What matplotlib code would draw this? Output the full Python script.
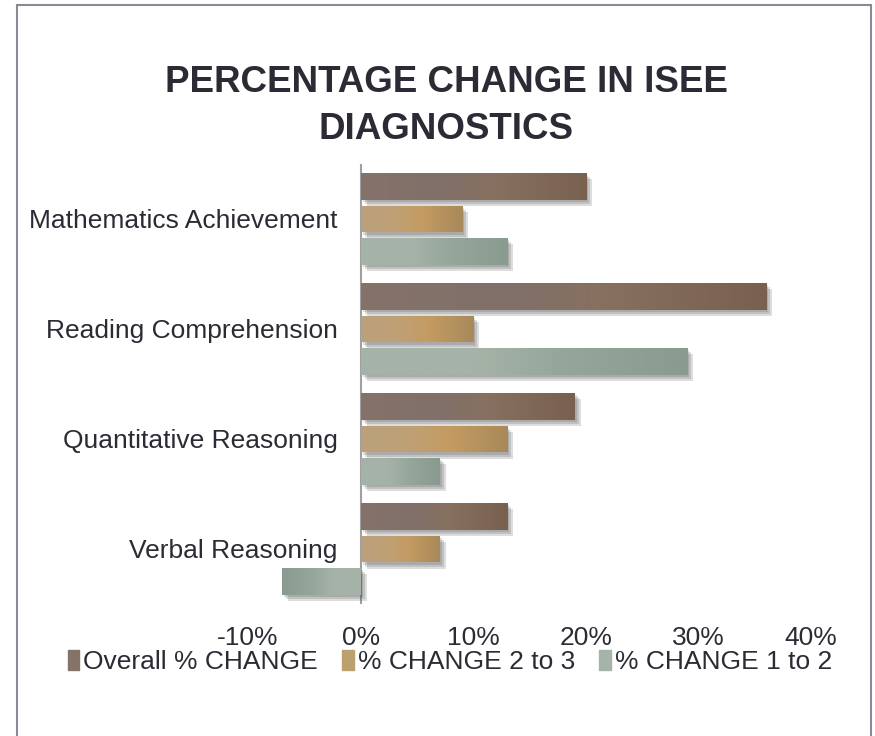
import numpy as np
import matplotlib
matplotlib.use("Agg")
import matplotlib.pyplot as plt
import matplotlib.transforms as mtransforms
from matplotlib.colors import LinearSegmentedColormap
from matplotlib.patches import Rectangle
import matplotlib.patheffects as pe

plt.rcParams['font.family'] = ['Liberation Sans', 'DejaVu Sans']

# data
categories = ["Mathematics Achievement", "Reading Comprehension",
              "Quantitative Reasoning", "Verbal Reasoning"]
series_names = ["Overall % CHANGE", "% CHANGE 2 to 3", "% CHANGE 1 to 2"]
overall = [20, 36, 19, 13]
change_2_3 = [9, 10, 13, 7]
change_1_2 = [13, 29, 7, -7]
x_ticks = [-10, 0, 10, 20, 30, 40]

# gradient stops for each series (left -> right along the bar)
grads = [
    ["#857369", "#80706a", "#87705f", "#79604f"],
    ["#bba17e", "#bfa074", "#c49b62", "#a8895a"],
    ["#a6b2a8", "#a5b2a7", "#95a79b", "#899b8f"],
]
legend_cols = ["#857369", "#bda070", "#a6b3a8"]
txt_col = "#2b2b35"

fig = plt.figure(figsize=(8.75, 7.36), dpi=100)
# outer chart frame
fig.patches.append(Rectangle((17 / 875, -0.01), (871 - 17) / 875, 1 - 5 / 736 + 0.01,
                             transform=fig.transFigure, fill=False,
                             edgecolor="#8a8a96", lw=1.5))

ax = fig.add_axes([248 / 875, 1 - 604 / 736, (811 - 248) / 875, (604 - 164) / 736])

values = [overall, change_2_3, change_1_2]
n = len(categories)
ypos = np.arange(n)[::-1]
pitch = 0.295
h = 0.245
grad = np.linspace(0, 1, 256).reshape(1, -1)

# soft-ish drop shadow: a few stacked offsets
shadow = [pe.SimplePatchShadow(offset=(o, -o), shadow_rgbFace="#444444", alpha=0.18)
          for o in (1.5, 3, 4.5)]

for i, vals in enumerate(values):
    offs = (1 - i) * pitch
    bars = ax.barh(ypos + offs, vals, height=h, color=grads[i][0],
                   label=series_names[i], zorder=2)
    cmap = LinearSegmentedColormap.from_list("g%d" % i, list(zip([0, 0.35, 0.6, 1], grads[i])))
    for b in bars:
        b.set_path_effects(shadow + [pe.Normal()])
        x0, w = b.get_x(), b.get_width()
        y0, bh = b.get_y(), b.get_height()
        img = grad if w >= 0 else grad[:, ::-1]
        im = ax.imshow(img, cmap=cmap, aspect="auto", zorder=3,
                       extent=[min(x0, x0 + w), max(x0, x0 + w), y0, y0 + bh])
        im.set_clip_path(b)

ax.set_xlim(-10, 40)
ax.set_ylim(-0.5, n - 0.5)
ax.set_xticks(x_ticks)
ax.set_xticklabels(["%d%%" % t for t in x_ticks], fontsize=19, color=txt_col)
ax.tick_params(length=0, pad=16, axis="x")
ax.set_yticks([])
for s in ax.spines.values():
    s.set_visible(False)
ax.axvline(0, color="#a0a0a0", lw=1.5, zorder=1)

# category labels sit beside the vertical axis at 0
lab_tr = ax.transData + mtransforms.ScaledTranslation(-0.23, -0.02, fig.dpi_scale_trans)
for y, c in zip(ypos, categories):
    ax.text(0, y, c, transform=lab_tr, ha="right", va="center", fontsize=19, color=txt_col)

fig.text(0.51, 1 - 106 / 736, "PERCENTAGE CHANGE IN ISEE\nDIAGNOSTICS", ha="center", va="center",
         fontsize=26.5, fontweight="bold", color=txt_col, linespacing=1.42)

handles = [Rectangle((0, 0), 1, 1, color=c) for c in legend_cols]
fig.legend(handles, series_names, loc="center", bbox_to_anchor=(0.514, 1 - 662 / 736),
           ncol=3, frameon=False, fontsize=19, handlelength=0.45, handleheight=0.8,
           handletextpad=0.15, columnspacing=0.9, labelcolor=txt_col)

fig.savefig("out.png", dpi=100)
